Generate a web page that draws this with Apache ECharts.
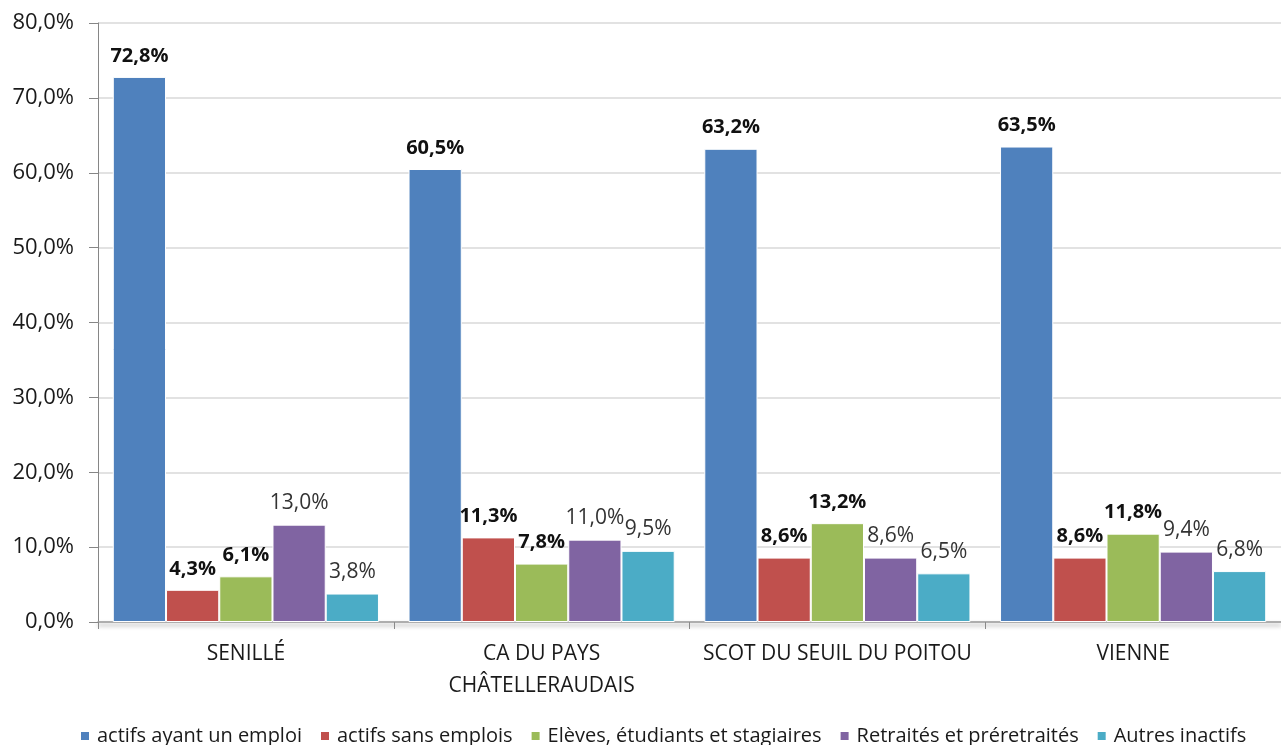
<!DOCTYPE html>
<html>
<head>
<meta charset="utf-8">
<script src="https://cdn.jsdelivr.net/npm/echarts@6/dist/echarts.min.js"></script>
<style>
  html, body { margin: 0; padding: 0; background: #fff; }
  #chart { width: 1281px; height: 745px; }
</style>
</head>
<body>
<div id="chart"></div>
<script>
// Territories compared
const categories = ['SENILLÉ', 'CA DU PAYS\nCHÂTELLERAUDAIS', 'SCOT DU SEUIL DU POITOU', 'VIENNE'];

// Share of the population (%) by activity status
const actifsEmploi = [72.8, 60.5, 63.2, 63.5];
const actifsSansEmploi = [4.3, 11.3, 8.6, 8.6];
const eleves = [6.1, 7.8, 13.2, 11.8];
const retraites = [13.0, 11.0, 8.6, 9.4];
const autresInactifs = [3.8, 9.5, 6.5, 6.8];

const seriesNames = [
  'actifs ayant un emploi',
  'actifs sans emplois',
  'Elèves, étudiants et stagiaires',
  'Retraités et préretraités',
  'Autres inactifs'
];

// Y axis range and step (%)
const yMin = 0;
const yMax = 80;
const yStep = 10;

const FONT = '"Open Sans", "Noto Sans", sans-serif';
const colors = ['#4F81BD', '#C0504D', '#9BBB59', '#8064A2', '#4BACC6'];
const boldLabels = [true, true, true, false, false];
const values = [actifsEmploi, actifsSansEmploi, eleves, retraites, autresInactifs];

const pct = v => v.toFixed(1).replace('.', ',') + '%';

const chart = echarts.init(document.getElementById('chart'), null, { renderer: 'canvas' });

chart.setOption({
  animation: false,
  color: colors,
  grid: { left: 98, top: 23, width: 1190, height: 599, containLabel: false },
  legend: {
    top: 721,
    left: 74,
    icon: 'rect',
    itemWidth: 10,
    itemHeight: 10,
    itemGap: 17,
    textStyle: { fontFamily: FONT, fontSize: 20, color: '#1a1a1a', padding: [0, 0, 0, 2] },
    data: seriesNames
  },
  xAxis: {
    type: 'category',
    data: categories,
    axisLine: {
      lineStyle: {
        color: '#a0a0a0', width: 1.5,
        shadowColor: 'rgba(0,0,0,0.4)', shadowBlur: 4, shadowOffsetY: 3
      }
    },
    axisTick: { show: true, length: 7, lineStyle: { color: '#8a8a8a' } },
    axisLabel: {
      margin: 16,
      fontFamily: FONT,
      fontSize: 21,
      color: '#1a1a1a',
      lineHeight: 32,
      interval: 0
    }
  },
  yAxis: {
    type: 'value',
    min: yMin,
    max: yMax,
    interval: yStep,
    axisLine: { show: true, lineStyle: { color: '#868686' } },
    axisTick: { show: true, length: 9, lineStyle: { color: '#868686' } },
    splitLine: { lineStyle: { color: '#d9d9d9', width: 1.5 } },
    axisLabel: {
      margin: 24,
      fontFamily: FONT,
      fontSize: 22,
      color: '#1a1a1a',
      formatter: v => pct(v)
    }
  },
  series: seriesNames.map((name, i) => ({
    name,
    type: 'bar',
    data: values[i],
    barGap: '0%',
    barCategoryGap: '10%',
    itemStyle: { color: colors[i], borderColor: '#ffffff', borderWidth: 1 },
    label: {
      show: true,
      position: 'top',
      distance: 11,
      fontFamily: FONT,
      fontSize: boldLabels[i] ? 20 : 21,
      fontWeight: boldLabels[i] ? 'bold' : 'normal',
      color: boldLabels[i] ? '#111' : '#333',
      formatter: p => pct(p.value)
    }
  }))
});
</script>
</body>
</html>
